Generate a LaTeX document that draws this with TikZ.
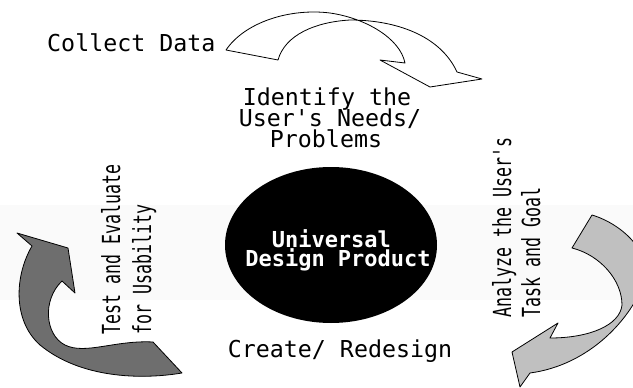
\documentclass[tikz,border=0pt]{standalone}
\usepackage{graphicx}
\usepackage{fontspec}
\usetikzlibrary{shapes.geometric}
\newfontfamily\gothic{DejaVu Sans Mono}[Ligatures=TeXOff]
\definecolor{darkarrow}{RGB}{110,110,110}
\definecolor{lightarrow}{RGB}{192,192,192}
\definecolor{bandgray}{RGB}{250,250,250}
\newcommand\vlab[1]{\scalebox{1}[1.5]{\gothic\fontsize{16.6}{20}\selectfont #1}}
\tikzset{
  htext/.style={font=\gothic\fontsize{23.3}{21}\selectfont, inner sep=0pt, anchor=base},
  etext/.style={font=\gothic\bfseries\fontsize{22}{19}\selectfont, text=white, inner sep=0pt, align=center},
  vtext/.style={rotate=90, anchor=base west, inner sep=0pt},
  arrowshape/.style={draw=black, line width=0.8pt, line join=round},
}
\begin{document}
\begin{tikzpicture}[x=1pt,y=-1pt]
\useasboundingbox (0,0) rectangle (633,388);
\clip (0,0) rectangle (633,388);
\fill[bandgray] (0,205) rectangle (633,300);

% top arrow (white)
\draw[arrowshape, fill=white]
  (226,50) .. controls (245,22) and (290,8) .. (330,13)
  .. controls (365,18) and (400,38) .. (405,63)
  -- (380,60) -- (430,87) -- (482,79) -- (457,72)
  .. controls (440,35) and (395,20) .. (350,20)
  .. controls (315,22) and (285,35) .. (278,60) -- cycle;

% right arrow (light gray)
\draw[arrowshape, fill=lightarrow]
  (592,215) .. controls (625,225) and (652,255) .. (645,280)
  .. controls (632,318) and (590,365) .. (530,373)
  -- (520,387) -- (512,352) -- (558,323) -- (550,338)
  .. controls (590,338) and (620,325) .. (622,305)
  .. controls (622,280) and (600,255) .. (572,248) -- cycle;

% left arrow (dark gray)
\draw[arrowshape, fill=darkarrow]
  (17,233) -- (32,246)
  .. controls (15,275) and (12,320) .. (40,345)
  .. controls (80,378) and (140,380) .. (182,373)
  -- (153,342)
  .. controls (115,340) and (85,355) .. (65,345)
  .. controls (45,335) and (42,300) .. (62,281)
  -- (75,293) -- (68,248) -- cycle;

% central ellipse
\node[ellipse, fill=black, minimum width=212pt, minimum height=156pt, inner sep=0pt] (prod) at (331,245) {};
\node[etext] (univ) at (338,250) {Universal~~\\Design Product};

% horizontal labels
\node[htext, anchor=base west] (collect) at (47,52) {Collect Data};
\node[htext] (ident1) at (327,105) {Identify the};
\node[htext] (ident2) at (330,126) {User's Needs/};
\node[htext] (ident3) at (326,147) {Problems};
\node[htext] (create) at (340,357) {Create/ Redesign};

% vertical labels
\node[vtext] (test1) at (120,335) {\vlab{Test and Evaluate}};
\node[vtext] (test2) at (151,335) {\vlab{for Usability}};
\node[vtext] (anal1) at (511,318) {\vlab{Analyze the User's}};
\node[vtext] (anal2) at (540,318) {\vlab{Task and Goal}};
\end{tikzpicture}
\end{document}
